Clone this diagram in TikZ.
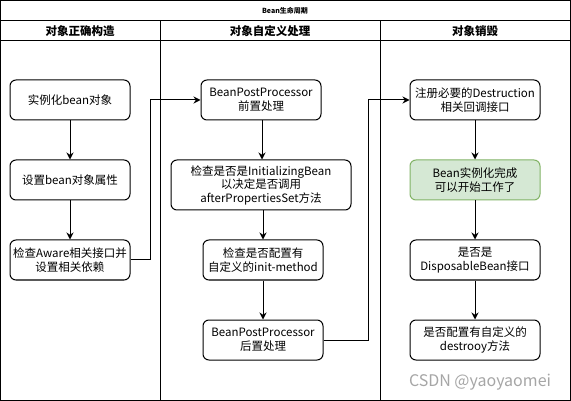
\documentclass[tikz,border=0pt]{standalone}
\usepackage{fontspec}
\setmainfont{Noto Sans CJK SC}
\usetikzlibrary{arrows.meta}
\definecolor{gfill}{HTML}{D5E8D4}
\definecolor{gline}{HTML}{82B366}
\begin{document}
\begin{tikzpicture}[x=1pt,y=-1pt,
  frame/.style={draw=black,line width=1pt},
  box/.style={draw=black,line width=1pt,rounded corners=6pt,fill=white,
    minimum width=120pt,minimum height=40pt,align=center,inner sep=1pt,
    font=\fontsize{11.5}{13.5}\selectfont},
  greenbox/.style={box,fill=gfill,draw=gline},
  hdr/.style={font=\fontsize{11.5}{13}\selectfont\bfseries},
  arr/.style={draw=black,line width=1pt,-{Stealth[length=7pt,width=7pt]}}]
\useasboundingbox (0,0) rectangle (571,401);
\fill[white] (0,0) rectangle (571,401);
% frame
\draw[frame] (0.5,0.5) rectangle (570.5,20.5);
\draw[frame] (0.5,20.5) rectangle (160.5,400.5);
\draw[frame] (160.5,20.5) rectangle (380.5,400.5);
\draw[frame] (380.5,20.5) rectangle (570.5,400.5);
\draw[frame] (0.5,41) -- (570.5,41);
\node[font=\fontsize{7}{8}\selectfont\bfseries] (title) at (285,10.5) {Bean生命周期};
\node[hdr] (h1) at (80,31) {对象正确构造};
\node[hdr] (h2) at (270,31) {对象自定义处理};
\node[hdr] (h3) at (475,31) {对象销毁};
% left lane
\node[box] (a1) at (70,100) {实例化bean对象};
\node[box] (a2) at (70,180) {设置bean对象属性};
\node[box] (a3) at (70,260) {检查Aware相关接口并\\设置相关依赖};
% middle lane
\node[box] (b1) at (261,100) {BeanPostProcessor\\前置处理};
\node[box,minimum width=180pt,minimum height=50pt] (b2) at (261,185) {检查是否是InitializingBean\\以决定是否调用\\afterPropertiesSet方法};
\node[box] (b3) at (263,260) {检查是否配置有\\自定义的init-method};
\node[box] (b4) at (263,340) {BeanPostProcessor\\后置处理};
% right lane
\node[box,minimum width=130pt] (c1) at (475,100) {注册必要的Destruction\\相关回调接口};
\node[greenbox,minimum width=130pt] (c2) at (475,180) {Bean实例化完成\\可以开始工作了};
\node[box,minimum width=130pt] (c3) at (475,260) {是否是\\DisposableBean接口};
\node[box,minimum width=130pt] (c4) at (475,340) {是否配置有自定义的\\destrooy方法};
% connectors
\draw[arr] (a1) -- (a2);
\draw[arr] (a2) -- (a3);
\draw[arr] (a3.east) -- ++(20,0) |- (b1.west);
\draw[arr] (b1.south -| 262,0) -- (b2.north -| 262,0);
\draw[arr] (b2.south -| 263,0) -- (b3.north -| 263,0);
\draw[arr] (b3) -- (b4);
\draw[arr] (b4.east) -- ++(45,0) |- (c1.west);
\draw[arr] (c1) -- (c2);
\draw[arr] (c2) -- (c3);
\draw[arr] (c3) -- (c4);
% watermark
\node[text=black!35,font=\fontsize{16}{18}\selectfont] (wm) at (480,382) {CSDN @yaoyaomei};
\end{tikzpicture}
\end{document}
